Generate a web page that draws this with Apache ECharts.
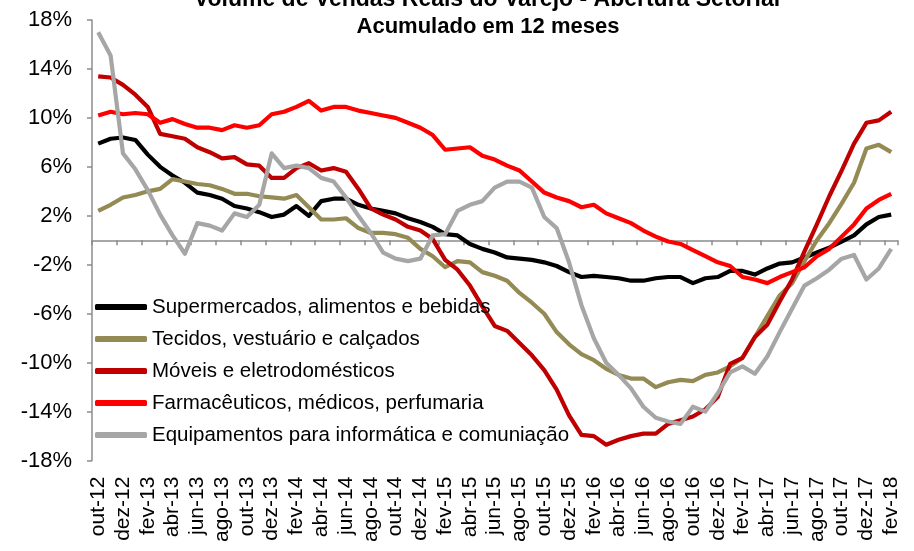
<!DOCTYPE html>
<html>
<head>
<meta charset="utf-8">
<script src="https://cdn.jsdelivr.net/npm/echarts@6/dist/echarts.min.js"></script>
<style>html,body{margin:0;padding:0;background:#fff}#c{width:914px;height:551px}</style>
</head>
<body>
<div id="c"></div>
<script>
const months = ['out-12','nov-12','dez-12','jan-13','fev-13','mar-13','abr-13','mai-13','jun-13','jul-13','ago-13','set-13','out-13','nov-13','dez-13','jan-14','fev-14','mar-14','abr-14','mai-14','jun-14','jul-14','ago-14','set-14','out-14','nov-14','dez-14','jan-15','fev-15','mar-15','abr-15','mai-15','jun-15','jul-15','ago-15','set-15','out-15','nov-15','dez-15','jan-16','fev-16','mar-16','abr-16','mai-16','jun-16','jul-16','ago-16','set-16','out-16','nov-16','dez-16','jan-17','fev-17','mar-17','abr-17','mai-17','jun-17','jul-17','ago-17','set-17','out-17','nov-17','dez-17','jan-18','fev-18'];

const yTicks = [-18,-14,-10,-6,-2,2,6,10,14,18];

const seriesNames = ['Supermercados, alimentos e bebidas','Tecidos, vestuário e calçados','Móveis e eletrodomésticos','Farmacêuticos, médicos, perfumaria','Equipamentos para informática e comuniação'];

const supermercados = [7.9,8.3,8.4,8.2,7.0,6.0,5.3,4.7,3.9,3.7,
 3.4,2.8,2.6,2.3,1.9,2.1,2.8,2.0,3.2,3.4,
 3.4,2.9,2.6,2.4,2.2,1.8,1.5,1.1,0.5,0.4,
 -0.3,-0.7,-1.0,-1.4,-1.5,-1.6,-1.8,-2.1,-2.6,-3.0,
 -2.9,-3.0,-3.1,-3.3,-3.3,-3.1,-3.0,-3.0,-3.5,-3.1,
 -3.0,-2.5,-2.5,-2.8,-2.3,-1.9,-1.8,-1.4,-1.0,-0.6,
 -0.1,0.4,1.3,1.9,2.1];

const tecidos = [2.4,2.9,3.5,3.7,4.0,4.2,5.0,4.8,4.6,4.5,
 4.2,3.8,3.8,3.6,3.5,3.4,3.7,2.7,1.7,1.7,
 1.8,1.0,0.6,0.6,0.5,0.2,-0.7,-1.3,-2.2,-1.7,
 -1.8,-2.6,-2.9,-3.3,-4.3,-5.1,-6.0,-7.5,-8.5,-9.3,
 -9.8,-10.5,-11.0,-11.3,-11.3,-12.0,-11.6,-11.4,-11.5,-11.0,
 -10.8,-10.3,-9.6,-7.9,-6.2,-4.5,-3.5,-1.7,0.0,1.4,
 3.0,4.7,7.5,7.8,7.2];

const moveis = [13.4,13.3,12.7,11.9,10.9,8.7,8.5,8.3,7.6,7.2,
 6.7,6.8,6.2,6.1,5.1,5.1,5.9,6.3,5.7,5.9,
 5.6,4.2,2.6,2.1,1.7,1.1,0.8,0.1,-1.6,-2.4,
 -3.7,-5.4,-7.0,-7.4,-8.4,-9.4,-10.6,-12.2,-14.3,-15.9,
 -16.0,-16.7,-16.3,-16.0,-15.8,-15.8,-15.0,-14.7,-14.4,-13.8,
 -12.8,-10.1,-9.6,-7.9,-6.9,-5.0,-3.2,-0.9,1.3,3.6,
 5.7,7.9,9.6,9.8,10.5];

const farmaceuticos = [10.2,10.5,10.3,10.4,10.3,9.6,9.9,9.5,9.2,9.2,
 9.0,9.4,9.2,9.4,10.3,10.5,10.9,11.4,10.6,10.9,
 10.9,10.6,10.4,10.2,10.0,9.6,9.2,8.6,7.4,7.5,
 7.6,6.9,6.6,6.1,5.7,4.8,3.9,3.5,3.2,2.7,
 2.9,2.2,1.8,1.4,0.8,0.3,-0.1,-0.3,-0.8,-1.3,
 -1.8,-2.1,-3.0,-3.2,-3.5,-3.0,-2.6,-2.2,-1.3,-0.7,
 0.3,1.3,2.6,3.3,3.8];

const equipamentos = [17.0,15.1,7.1,5.8,4.1,2.1,0.4,-1.1,1.4,1.2,
 0.8,2.2,1.9,2.9,7.1,5.9,6.1,5.9,5.1,4.8,
 3.5,2.0,0.6,-1.0,-1.5,-1.7,-1.5,0.4,0.5,2.4,
 2.9,3.2,4.3,4.8,4.8,4.3,1.9,1.0,-1.8,-5.3,
 -8.0,-10.0,-11.0,-12.1,-13.6,-14.5,-14.8,-15.0,-13.6,-14.0,
 -12.5,-10.8,-10.3,-10.9,-9.5,-7.5,-5.6,-3.7,-3.1,-2.4,
 -1.5,-1.2,-3.2,-2.3,-0.7];

const colors = ['#000000','#948A54','#C00000','#FF0000','#A6A6A6'];
const values = [supermercados, tecidos, moveis, farmaceuticos, equipamentos];

const FONT = '"Liberation Sans", Arial, sans-serif';
const axisGray = '#8C8C8C';

const chart = echarts.init(document.getElementById('c'), null, {renderer: 'canvas'});

chart.setOption({
  animation: false,
  backgroundColor: '#ffffff',
  color: colors,
  graphic: [
    {type: 'text', x: 487, y: 0, z: 10, style: {text: 'Volume de Vendas Reais do Varejo - Abertura Setorial', align: 'center', verticalAlign: 'middle', fontSize: 23, fontWeight: 'bold', fontFamily: FONT, fill: '#000'}},
    {type: 'text', x: 488, y: 26.5, z: 10, style: {text: 'Acumulado em 12 meses', align: 'center', verticalAlign: 'middle', fontSize: 22, fontWeight: 'bold', fontFamily: FONT, fill: '#000'}}
  ],
  grid: {left: 92, right: 16.6, top: 20, bottom: 90.4, containLabel: false},
  legend: {
    orient: 'vertical',
    left: 95,
    top: 295,
    padding: 0,
    itemGap: 8,
    itemWidth: 52,
    itemHeight: 6,
    icon: 'roundRect',
    data: seriesNames,
    textStyle: {fontSize: 20.5, fontFamily: FONT, color: '#000', lineHeight: 24, padding: [0,0,0,0]}
  },
  xAxis: [
    {
      type: 'category',
      data: months,
      boundaryGap: true,
      position: 'bottom',
      axisLine: {show: false, onZero: false},
      axisTick: {show: false},
      splitLine: {show: false},
      axisLabel: {interval: 1, rotate: 90, margin: 16, padding: [5,0,0,0], fontSize: 21, fontFamily: FONT, color: '#000'}
    },
    {
      type: 'category',
      data: months,
      boundaryGap: true,
      position: 'bottom',
      axisLine: {show: true, onZero: true, onZeroAxisIndex: 0, lineStyle: {color: axisGray, width: 1.5}},
      axisTick: {show: true, interval: 1, length: 5, inside: false, lineStyle: {color: axisGray, width: 1.5}},
      axisLabel: {show: false},
      splitLine: {show: false}
    }
  ],
  yAxis: {
    type: 'value',
    min: -18,
    max: 18,
    axisLine: {show: true, lineStyle: {color: axisGray, width: 1.5}},
    axisTick: {show: true, length: 5, customValues: yTicks, lineStyle: {color: axisGray, width: 1.5}},
    splitLine: {show: false},
    axisLabel: {customValues: yTicks, margin: 20, fontSize: 22, fontFamily: FONT, color: '#000', formatter: v => v + '%'}
  },
  series: seriesNames.map((name, k) => ({
    name: name,
    type: 'line',
    xAxisIndex: 0,
    data: values[k],
    symbol: 'none',
    smooth: false,
    lineStyle: {color: colors[k], width: 4.2, join: 'round'},
    itemStyle: {color: colors[k]}
  }))
});
</script>
</body>
</html>
